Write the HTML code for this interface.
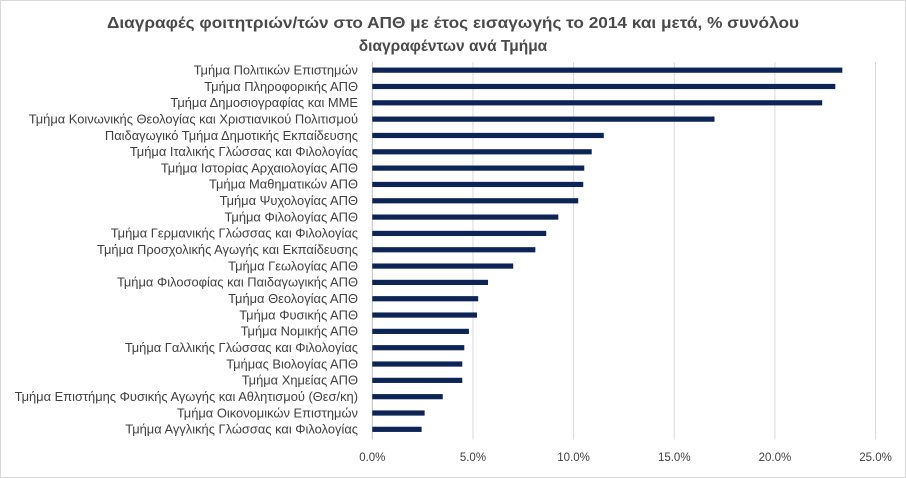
<!DOCTYPE html>
<html><head><meta charset="utf-8"><style>
body{margin:0;background:#fff}
svg{display:block;font-family:"Liberation Sans","DejaVu Sans",sans-serif}
</style></head><body>
<svg id="chart" width="906" height="478" viewBox="0 0 906 478">
<rect x="0.5" y="0.5" width="905" height="477" fill="#fff" stroke="#d9d9d9"/>
<text x="453" y="28" text-anchor="middle" font-size="15.5" font-weight="bold" fill="#4a4a4a" textLength="692" lengthAdjust="spacingAndGlyphs">Διαγραφές φοιτητριών/τών στο ΑΠΘ με έτος εισαγωγής το 2014 και μετά, % συνόλου</text>
<text x="453" y="51" text-anchor="middle" font-size="15.5" font-weight="bold" fill="#4a4a4a">διαγραφέντων ανά Τμήμα</text>
<g id="grid"></g><g id="bars"></g><g id="labels"></g><g id="ticks"></g>
</svg>
<script>
const categories=["Τμήμα Πολιτικών Επιστημών","Τμήμα Πληροφορικής ΑΠΘ","Τμήμα Δημοσιογραφίας και ΜΜΕ","Τμήμα Κοινωνικής Θεολογίας και Χριστιανικού Πολιτισμού","Παιδαγωγικό Τμήμα Δημοτικής Εκπαίδευσης","Τμήμα Ιταλικής Γλώσσας και Φιλολογίας","Τμήμα Ιστορίας Αρχαιολογίας ΑΠΘ","Τμήμα Μαθηματικών ΑΠΘ","Τμήμα Ψυχολογίας ΑΠΘ","Τμήμα Φιλολογίας ΑΠΘ","Τμήμα Γερμανικής Γλώσσας και Φιλολογίας","Τμήμα Προσχολικής Αγωγής και Εκπαίδευσης","Τμήμα Γεωλογίας ΑΠΘ","Τμήμα Φιλοσοφίας και Παιδαγωγικής ΑΠΘ","Τμήμα Θεολογίας ΑΠΘ","Τμήμα Φυσικής ΑΠΘ","Τμήμα Νομικής ΑΠΘ","Τμήμα Γαλλικής Γλώσσας και Φιλολογίας","Τμήμας Βιολογίας ΑΠΘ","Τμήμα Χημείας ΑΠΘ","Τμήμα Επιστήμης Φυσικής Αγωγής και Αθλητισμού (Θεσ/κη)","Τμήμα Οικονομικών Επιστημών","Τμήμα Αγγλικής Γλώσσας και Φιλολογίας"];
const values=[23.35,23.0,22.35,17.0,11.5,10.9,10.53,10.48,10.23,9.24,8.64,8.1,7.0,5.75,5.26,5.2,4.8,4.57,4.47,4.47,3.5,2.6,2.45];
const tickValues=[0,5,10,15,20,25];
const tickLabels=["0.0%","5.0%","10.0%","15.0%","20.0%","25.0%"];
const NS="http://www.w3.org/2000/svg";
const x0=372.3,pxPer=20.13,yTop=62,yBot=437.5;
const band=(yBot-yTop)/categories.length;
const xs=v=>x0+v*pxPer, yc=i=>yTop+band*(i+0.5);
function mk(t,a,p){const e=document.createElementNS(NS,t);for(const k in a)e.setAttribute(k,a[k]);p.appendChild(e);return e;}
const g=document.getElementById('grid'),b=document.getElementById('bars'),l=document.getElementById('labels'),tk=document.getElementById('ticks');
tickValues.forEach((v,i)=>{
 const ln=mk('line',{x1:xs(v),x2:xs(v),y1:yTop,y2:yBot+2,stroke:v===0?'#bfbfbf':'#d9d9d9','stroke-width':1},g);
 
 
 const t=mk('text',{x:xs(v),y:461,'text-anchor':'middle','font-size':11.5,fill:'#404040'},tk);
 t.textContent=tickLabels[i];
 
 
});
categories.forEach((c,i)=>{
 const r=mk('rect',{x:x0,y:yc(i)-2.6,width:values[i]*pxPer,height:5.2,fill:'#0c2456'},b);
 
 
 const t=mk('text',{x:358,y:yc(i)+4.3,'text-anchor':'end','font-size':12.9,fill:'#404040'},l);
 t.textContent=c;
 
 
});
</script>
</body></html>
